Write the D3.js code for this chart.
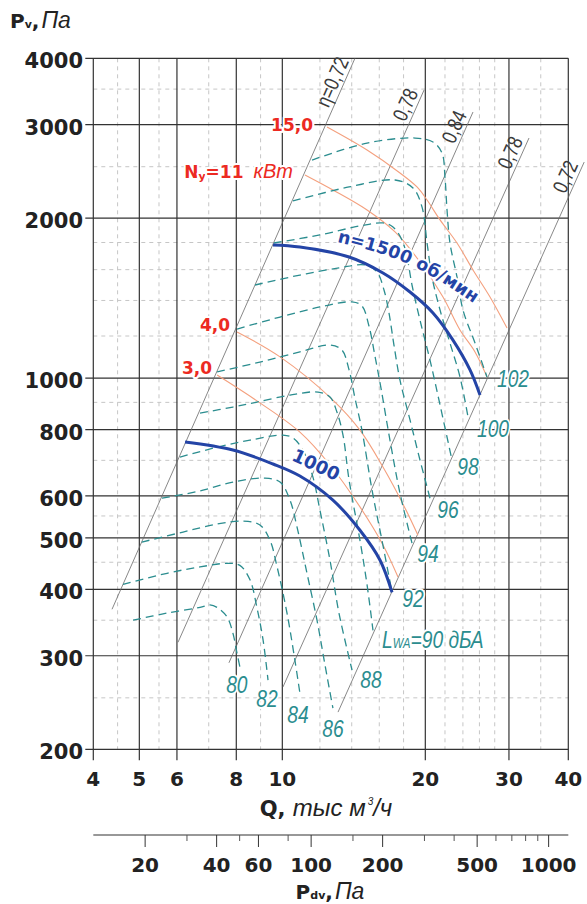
<!DOCTYPE html>
<html>
<head>
<meta charset="utf-8">
<script src="https://cdnjs.cloudflare.com/ajax/libs/d3/7.8.5/d3.min.js"></script>
<style>
  body { margin: 0; background: #fff; }
  svg { display: block; }
  .num { font-family: "DejaVu Sans", sans-serif; font-weight: bold; fill: #222; }
  .it { font-family: "Liberation Sans", Arial, sans-serif; font-style: italic; }
  .halo { stroke: #fff; stroke-width: 4px; paint-order: stroke; stroke-linejoin: round; }
</style>
</head>
<body>
<div id="chart"></div>
<script>
// axes: Q in thousand m3/h, Pv in Pa
var qTicks = [4, 5, 6, 8, 10, 20, 30, 40];
var qMinor = [4.5, 5.5, 7, 9, 12, 14, 16, 18, 22, 24, 26, 28, 35];
var pTicks = [200, 300, 400, 500, 600, 800, 1000, 2000, 3000, 4000];
var pMinor = [250, 350, 450, 550, 700, 900, 1200, 1400, 1600, 1800, 2500, 3500];
var pdvTicks = [20, 40, 60, 100, 200, 500, 1000];
var pdvMinor = [30, 50, 80, 150, 300, 400, 600, 700, 800, 900];
var pdvRange = [12.1, 1210]; // Pdv at Q=4 and Q=40

// efficiency lines (ends as [Q, P])
var etaNames = ["η=0,72", "0,78", "0,84", "0,78", "0,72"];
var etaLines = [
  [[4.38, 367], [14.22, 4000]],
  [[6.03, 318], [19.88, 3486]],
  [[7.72, 291], [25.2, 3169]],
  [[10.03, 262], [33.06, 2831]],
  [[13.1, 235], [43.2, 2551]]
];

// shaft power, kW
var powerNames = ["3,0", "4,0", "11", "15,0"];
var powerCurves = [
  [[7.29, 1013], [8.97, 898], [10.89, 791], [12.6, 686], [14.57, 572], [16.29, 485], [17.52, 422]],
  [[8.03, 1221], [9.89, 1096], [12.78, 909], [14.57, 798], [16.29, 680], [18.13, 569], [19.3, 506]],
  [[11.16, 2412], [12.78, 2260], [15.08, 2072], [17.27, 1884], [19.49, 1654], [21.79, 1421], [23.66, 1232], [25.45, 1120], [26.97, 1005]],
  [[12.42, 2969], [15.08, 2687], [17.69, 2433], [19.21, 2290], [20.17, 2164], [21.48, 1985], [23.32, 1796], [25.2, 1598], [27.37, 1421], [29.72, 1242]]
];

// fan speed, rpm
var speedNames = ["1000", "n=1500 об/мин"];
var speedCurves = [
  [[6.24, 758], [7.87, 732], [9.56, 689], [10.89, 654], [12.78, 589], [14.57, 517], [16.06, 454], [17.02, 395]],
  [[9.56, 1781], [10.89, 1765], [13.82, 1690], [16.29, 1577], [18.57, 1452], [20.76, 1326], [22.87, 1179], [24.84, 1036], [26.07, 929]]
];

// sound power LwA, dBA
var noiseLevels = [80, 82, 84, 86, 88, 90, 92, 94, 96, 98, 100, 102];
var noiseCurves = [
  [[4.85, 350], [5.72, 361], [6.71, 370], [7.04, 374], [7.29, 370], [7.65, 355], [7.87, 331], [8.03, 303], [8.14, 286]],
  [[4.62, 409], [5.72, 429], [6.71, 441], [7.68, 448], [8.14, 444], [8.55, 417], [8.84, 370], [9.11, 321], [9.33, 270]],
  [[5.06, 491], [6.18, 513], [7.29, 531], [8.26, 538], [8.97, 529], [9.42, 495], [9.75, 441], [10.23, 361], [10.63, 294], [10.89, 255]],
  [[5.58, 594], [6.71, 613], [7.87, 637], [9.19, 648], [9.89, 637], [10.38, 589], [10.74, 524], [11.27, 429], [11.83, 350], [12.3, 288], [12.78, 239]],
  [[6.09, 710], [7.29, 741], [8.55, 764], [10.03, 781], [10.53, 771], [11.05, 732], [11.6, 651], [12.0, 564], [12.6, 454], [13.16, 361], [14.02, 282]],
  [[6.71, 859], [7.87, 882], [8.84, 901], [10.38, 929], [11.89, 941], [12.6, 921], [13.03, 863], [13.42, 781], [13.82, 643], [14.57, 495], [15.08, 408], [15.52, 335]],
  [[7.29, 1027], [8.97, 1072], [10.89, 1120], [12.6, 1154], [13.35, 1129], [13.82, 1036], [14.22, 917], [14.71, 798], [15.45, 615], [16.21, 495], [17.02, 395]],
  [[8.03, 1237], [9.89, 1303], [12.0, 1361], [14.02, 1391], [14.71, 1367], [15.22, 1253], [15.67, 1100], [16.13, 958], [16.85, 764], [17.69, 607], [18.75, 489]],
  [[8.76, 1497], [10.89, 1563], [13.16, 1612], [14.93, 1633], [15.82, 1584], [16.37, 1465], [16.77, 1326], [17.18, 1154], [17.69, 991], [18.57, 834], [19.49, 701], [20.46, 594]],
  [[9.6, 1796], [12.0, 1860], [14.57, 1934], [16.29, 1959], [17.1, 1925], [17.86, 1820], [18.3, 1690], [18.75, 1497], [19.49, 1286], [20.46, 1081], [21.48, 890], [22.76, 701]],
  [[10.53, 2155], [13.82, 2290], [17.27, 2360], [18.84, 2280], [19.68, 2100], [20.17, 1796], [20.66, 1550], [21.48, 1343], [22.54, 1164], [23.66, 1005], [24.6, 845]],
  [[11.55, 2573], [15.08, 2770], [19.03, 2831], [20.76, 2782], [21.69, 2652], [22.0, 2391], [22.22, 2072], [22.54, 1796], [23.32, 1550], [24.01, 1343], [25.45, 1164], [26.97, 1005]]
];

var width = 587;
var height = 904;

var x = d3.scaleLog().domain([4, 40]).range([93.3, 568.3]);
var y = d3.scaleLog().domain([200, 4000]).range([749.3, 58.3]);
var xPdv = d3.scaleLog().domain(pdvRange).range([93.3, 568.3]);

var line = d3.line()
  .x(function(d) { return x(d[0]); })
  .y(function(d) { return y(d[1]); })
  .curve(d3.curveCatmullRom.alpha(0.5));

var svg = d3.select("#chart").append("svg")
  .attr("width", width)
  .attr("height", height);

svg.append("rect").attr("width", width).attr("height", height).attr("fill", "#fff");

// minor grid
var grid = svg.append("g");
grid.selectAll(".vm").data(qMinor).join("line")
  .attr("x1", x).attr("x2", x)
  .attr("y1", y(4000)).attr("y2", y(200))
  .attr("stroke", "#c6c6c6").attr("stroke-dasharray", "4,4");
grid.selectAll(".hm").data(pMinor).join("line")
  .attr("x1", x(4)).attr("x2", x(40))
  .attr("y1", y).attr("y2", y)
  .attr("stroke", "#c6c6c6").attr("stroke-dasharray", "4,4");

// major grid with ticks
grid.selectAll(".vM").data(qTicks).join("line")
  .attr("x1", x).attr("x2", x)
  .attr("y1", y(4000)).attr("y2", y(200) + 11)
  .attr("stroke", "#333").attr("stroke-width", 1.2);
grid.selectAll(".hM").data(pTicks).join("line")
  .attr("x1", x(4) - 8).attr("x2", x(40))
  .attr("y1", y).attr("y2", y)
  .attr("stroke", "#333").attr("stroke-width", 1.2);

// axis numbers
svg.append("g").selectAll("text").data(pTicks).join("text")
  .attr("class", "num")
  .attr("x", 83)
  .attr("y", function(d) { return y(d) + 10; })
  .attr("text-anchor", "end")
  .style("font-size", "21px")
  .text(function(d) { return d; });

svg.append("g").selectAll("text").data(qTicks).join("text")
  .attr("class", "num")
  .attr("x", x)
  .attr("y", 786)
  .attr("text-anchor", "middle")
  .style("font-size", "20px")
  .text(function(d) { return d; });

// axis titles
var pvTitle = svg.append("text").attr("x", 10).attr("y", 28).attr("fill", "#222");
pvTitle.append("tspan").attr("class", "num").style("font-size", "20px").text("P");
pvTitle.append("tspan").attr("class", "num").style("font-size", "11px").text("v");
pvTitle.append("tspan").attr("class", "num").style("font-size", "20px").text(",");
pvTitle.append("tspan").attr("class", "it").style("font-size", "23px").attr("dx", 2).text("Па");

var qTitle = svg.append("text").attr("x", 326).attr("y", 816).attr("text-anchor", "middle").attr("fill", "#222");
qTitle.append("tspan").attr("class", "num").style("font-size", "21px").text("Q, ");
qTitle.append("tspan").attr("class", "it").style("font-size", "24px").text("тыс  м");
qTitle.append("tspan").attr("class", "it").style("font-size", "10px").attr("dy", -11).attr("dx", 2).text("3");
qTitle.append("tspan").attr("class", "it").style("font-size", "24px").attr("dy", 11).text("/ч");

// dynamic pressure axis
var pdvY = 835;
var pdvAxis = svg.append("g");
pdvAxis.append("line")
  .attr("x1", x(4)).attr("x2", x(40))
  .attr("y1", pdvY).attr("y2", pdvY)
  .attr("stroke", "#333").attr("stroke-width", 1.2);
pdvAxis.selectAll(".tM").data(pdvTicks).join("line")
  .attr("x1", xPdv).attr("x2", xPdv)
  .attr("y1", pdvY).attr("y2", pdvY + 12)
  .attr("stroke", "#333");
pdvAxis.selectAll(".tm").data(pdvMinor).join("line")
  .attr("x1", xPdv).attr("x2", xPdv)
  .attr("y1", pdvY).attr("y2", pdvY + 6)
  .attr("stroke", "#555");
pdvAxis.selectAll("text").data(pdvTicks).join("text")
  .attr("class", "num")
  .attr("x", xPdv)
  .attr("y", 872)
  .attr("text-anchor", "middle")
  .style("font-size", "20px")
  .text(function(d) { return d; });

var pdvTitle = svg.append("text").attr("x", 330).attr("y", 899).attr("text-anchor", "middle").attr("fill", "#222");
pdvTitle.append("tspan").attr("class", "num").style("font-size", "20px").text("P");
pdvTitle.append("tspan").attr("class", "num").style("font-size", "11px").text("dv");
pdvTitle.append("tspan").attr("class", "num").style("font-size", "20px").text(",");
pdvTitle.append("tspan").attr("class", "it").style("font-size", "23px").attr("dx", 2).text("Па");

// efficiency lines
svg.append("g").selectAll("path").data(etaLines).join("path")
  .attr("d", d3.line().x(function(d) { return x(d[0]); }).y(function(d) { return y(d[1]); }))
  .attr("fill", "none")
  .attr("stroke", "#6a6a6a")
  .attr("stroke-width", 0.8);

svg.append("g").selectAll("text").data(etaLines).join("text")
  .attr("class", "it")
  .attr("transform", function(d) {
    var x1 = x(d[0][0]), y1 = y(d[0][1]), x2 = x(d[1][0]), y2 = y(d[1][1]);
    var ang = Math.atan2(y2 - y1, x2 - x1) * 180 / Math.PI;
    return "translate(" + x2 + "," + y2 + ") rotate(" + ang + ") scale(0.8,1)";
  })
  .attr("y", -4)
  .attr("dx", -6)
  .attr("text-anchor", "end")
  .attr("fill", "#3a3a3a")
  .style("font-style", "normal")
  .style("font-size", "21px")
  .text(function(d, i) { return etaNames[i]; });

// power lines
svg.append("g").selectAll("path").data(powerCurves).join("path")
  .attr("d", line)
  .attr("fill", "none")
  .attr("stroke", "#f4a07e")
  .attr("stroke-width", 1.1);

// noise lines
svg.append("g").selectAll("path").data(noiseCurves).join("path")
  .attr("d", line)
  .attr("fill", "none")
  .attr("stroke", "#2b8d8f")
  .attr("stroke-width", 1.3)
  .attr("stroke-dasharray", "8,5");

// speed lines
svg.append("g").selectAll("path").data(speedCurves).join("path")
  .attr("d", line)
  .attr("fill", "none")
  .attr("stroke", "#2444a6")
  .attr("stroke-width", 3);

// noise labels, placed next to the lower end of each curve
var noiseLabelShift = [[-3, 26], [-1, 27], [-2, 30], [0, 29], [19, 18], [9, 18], [21, 15], [16, 19], [18, 20], [16, 15], [25, 20], [26, 10]];
var noiseG = svg.append("g");
noiseCurves.forEach(function(c, i) {
  var end = c[c.length - 1];
  var px = x(end[0]) + noiseLabelShift[i][0];
  var py = y(end[1]) + noiseLabelShift[i][1];
  var t = noiseG.append("text")
    .attr("class", "it halo")
    .attr("transform", "translate(" + px + "," + py + ") scale(0.8,1)")
    .attr("text-anchor", noiseLevels[i] === 90 ? "start" : "middle")
    .attr("fill", "#2b8d8f")
    .style("font-size", "24px");
  if (noiseLevels[i] === 90) {
    t.append("tspan").text("L");
    t.append("tspan").style("font-size", "14px").text("WA");
    t.append("tspan").text("=90 дБА");
  } else {
    t.text(noiseLevels[i]);
  }
});

// power labels, left of the start of each line
var powerLabelShift = [[-5, -1], [-7, -1], [-12, 3], [-14, 4]];
var powerG = svg.append("g");
powerCurves.forEach(function(c, i) {
  var px = x(c[0][0]) + powerLabelShift[i][0];
  var py = y(c[0][1]) + powerLabelShift[i][1];
  var t = powerG.append("text")
    .attr("class", "halo")
    .attr("x", px).attr("y", py)
    .attr("text-anchor", "end")
    .attr("fill", "#ec2a22");
  if (powerNames[i] === "11") {
    t.append("tspan").attr("class", "num").style("fill", "#ec2a22").style("font-size", "17px").text("N");
    t.append("tspan").attr("class", "num").style("fill", "#ec2a22").style("font-size", "11px").attr("dy", 2).text("у");
    t.append("tspan").attr("class", "num").style("fill", "#ec2a22").style("font-size", "17px").attr("dy", -2).text("=11");
    t.append("tspan").attr("class", "it").style("font-size", "20px").attr("dx", 10).text("кВт");
  } else {
    t.append("tspan").attr("class", "num").style("fill", "#ec2a22").style("font-size", "17px").text(powerNames[i]);
  }
});

// speed labels
svg.append("text")
  .attr("class", "num halo")
  .attr("transform", "translate(" + x(11.77) + "," + y(686) + ") rotate(25)")
  .attr("text-anchor", "middle")
  .attr("y", 6)
  .style("fill", "#2444a6")
  .style("font-size", "18px")
  .text(speedNames[0]);

var guide = d3.line().curve(d3.curveNatural)
  .x(function(d) { return x(d[0]); })
  .y(function(d) { return y(d[1]); });
svg.append("path")
  .attr("id", "n1500")
  .attr("d", guide([[13.03, 1804], [18.57, 1633], [26.32, 1349]]))
  .attr("fill", "none");
svg.append("text")
  .attr("class", "num halo")
  .style("fill", "#2444a6")
  .style("font-size", "17.5px")
  .append("textPath")
  .attr("href", "#n1500")
  .text(speedNames[1]);
</script>
</body>
</html>
